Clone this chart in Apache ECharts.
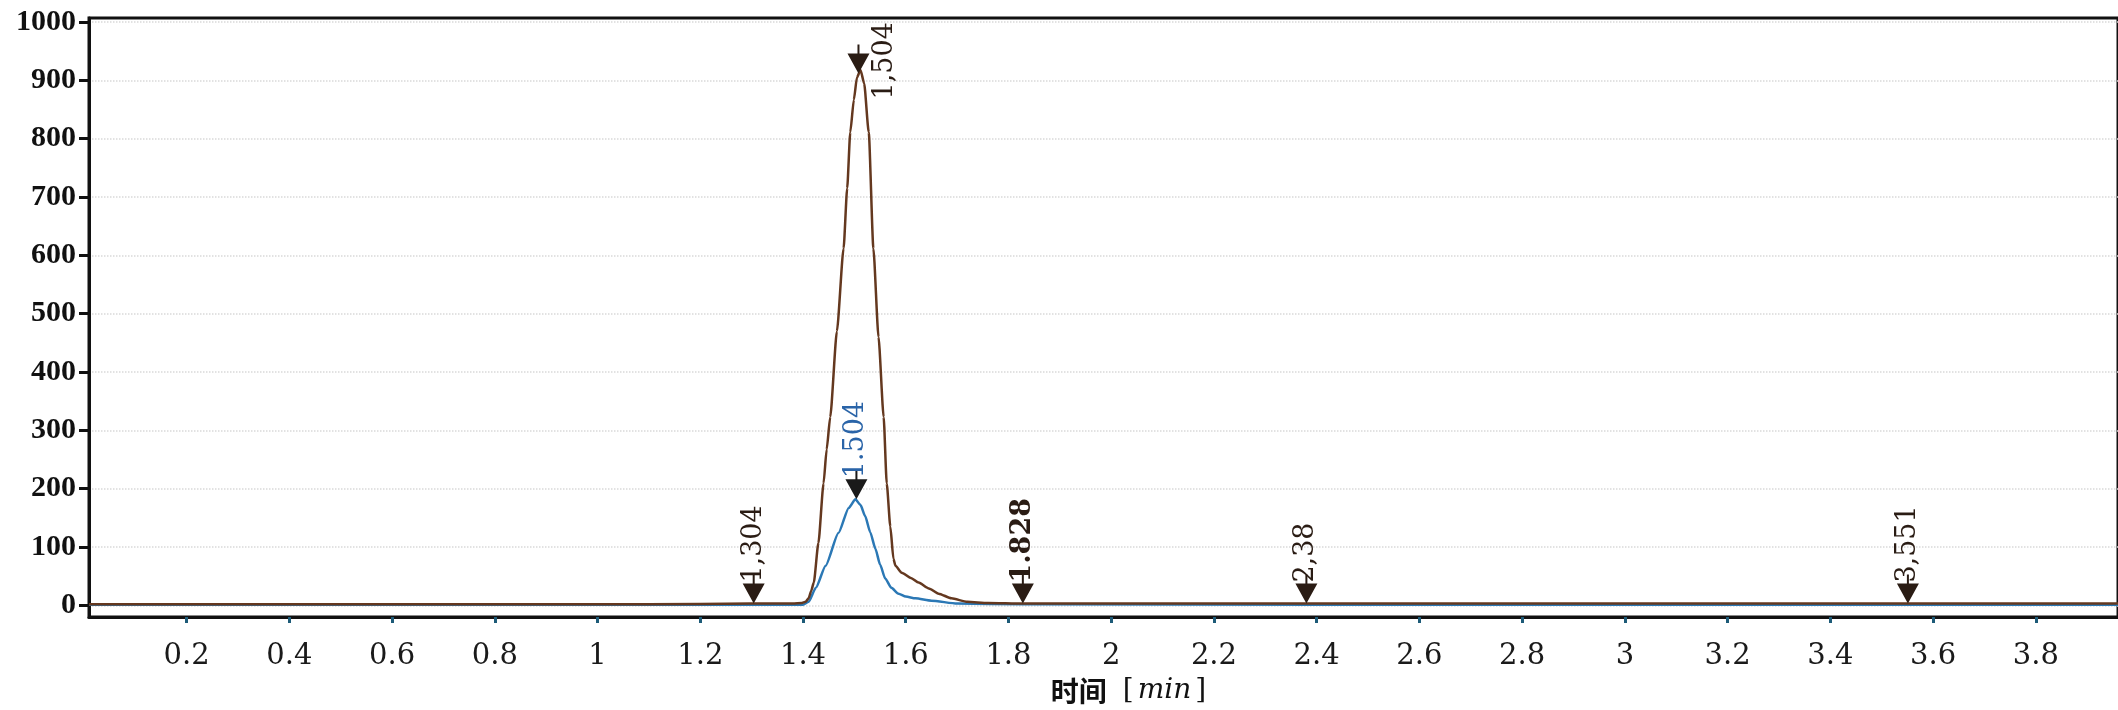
<!DOCTYPE html>
<html><head><meta charset="utf-8">
<script src="https://cdn.jsdelivr.net/npm/echarts@6/dist/echarts.min.js"></script>
<style>html,body{margin:0;padding:0;background:#fff}#c{width:2118px;height:710px}</style>
</head><body><div id="c"></div>
<script>
// ---- data ----
const brownTimes  = [0.01, 0.3, 0.6, 0.9, 1.1, 1.3, 1.38, 1.398, 1.405, 1.411, 1.416, 1.421, 1.43, 1.44, 1.446, 1.453, 1.466, 1.479, 1.486, 1.492, 1.499, 1.505, 1.512, 1.519, 1.528, 1.537, 1.547, 1.557, 1.563, 1.570, 1.576, 1.58, 1.592, 1.61, 1.625, 1.645, 1.664, 1.689, 1.72, 1.76, 1.828, 2.0, 2.38, 2.8, 3.2, 3.551, 3.96];
const brownValues = [2, 2, 2, 2, 2, 3, 3, 4, 6, 12, 25, 39, 107, 209, 267, 323, 470, 612, 715, 811, 867, 905, 918, 895, 811, 612, 460, 323, 209, 135, 80, 68, 56, 47, 39, 29, 20, 12, 6, 4, 3, 3, 3, 3, 3, 3, 3];
const blueTimes   = [0.01, 0.5, 1.0, 1.3, 1.4, 1.411, 1.425, 1.444, 1.469, 1.489, 1.502, 1.512, 1.521, 1.531, 1.541, 1.55, 1.56, 1.572, 1.586, 1.6, 1.619, 1.65, 1.7, 1.828, 2.4, 3.0, 3.96];
const blueValues  = [1, 1, 1, 1, 1, 6, 30, 68, 124, 167, 182, 172, 153, 125, 97, 70, 46, 30, 20, 15, 12, 8, 3, 2, 1, 1, 1];
const brownPeakTimes  = [1.304, 1.508, 1.828, 2.38, 3.551];
const brownPeakValues = [3, 912, 3, 3, 3];
const brownPeakLabels = ['1,304', '1,504', '1.828', '2,38', '3,551'];
const bluePeakTimes  = [1.504];
const bluePeakValues = [182];
const bluePeakLabels = ['1.504'];
const xTickValues = [0.2, 0.4, 0.6, 0.8, 1, 1.2, 1.4, 1.6, 1.8, 2, 2.2, 2.4, 2.6, 2.8, 3, 3.2, 3.4, 3.6, 3.8];
const xTickLabels = ['0.2','0.4','0.6','0.8','1','1.2','1.4','1.6','1.8','2','2.2','2.4','2.6','2.8','3','3.2','3.4','3.6','3.8'];
const yTickValues = [0, 100, 200, 300, 400, 500, 600, 700, 800, 900, 1000];
const yTickLabels = ['0','100','200','300','400','500','600','700','800','900','1000'];

// ---- build ----
const zip = (a, b) => a.map((t, i) => [t, b[i]]);
const arrowSymbol = 'path://M0,9 L22,9 L11,29 Z M10,0 L12,0 L12,9 L10,9 Z';
const markerLabel = (color) => ({
  show: true, position: 'top', distance: -8, rotate: 90,
  align: 'left', verticalAlign: 'middle',
  fontFamily: 'DejaVu Serif', fontSize: 27, color: color
});
const brownPeakData = brownPeakTimes.map((t, i) => {
  const item = { value: [t, brownPeakValues[i]], name: brownPeakLabels[i] };
  if (brownPeakValues[i] > 500) item.label = { offset: [-47, 27] };
  if (brownPeakLabels[i] === '1.828') item.label = { fontWeight: 'bold' };
  return item;
});
const bluePeakData = bluePeakTimes.map((t, i) => ({ value: [t, bluePeakValues[i]], name: bluePeakLabels[i] }));

const chart = echarts.init(document.getElementById('c'), null, { renderer: 'canvas' });
chart.setOption({
  animation: false,
  backgroundColor: '#ffffff',
  grid: { left: 89, right: -4, top: 18, bottom: 88, show: true, borderColor: '#111', borderWidth: 3, backgroundColor: 'transparent' },
  xAxis: {
    type: 'value', min: 0.01, max: 3.96,
    axisLine: { show: true, onZero: false, lineStyle: { color: '#111', width: 3 } },
    axisTick: { show: true, customValues: xTickValues, length: 6, lineStyle: { color: '#1d5b78', width: 3 } },
    axisLabel: {
      customValues: xTickValues, margin: 25,
      formatter: v => { const i = xTickValues.findIndex(x => Math.abs(x - v) < 1e-6); return i >= 0 ? xTickLabels[i] : ''; },
      fontFamily: 'DejaVu Serif', fontSize: 29, color: '#1a1a1a'
    },
    splitLine: { show: false },
    name: '{a|时间}{b|[}{c|min}{d|]}', nameLocation: 'middle', nameGap: 60,
    nameTextStyle: {
      padding: [0, 0, 0, 50],
      rich: {
        a: { fontFamily: 'Noto Sans CJK SC', fontWeight: 'bold', fontSize: 28, color: '#111' },
        b: { fontFamily: 'DejaVu Serif', fontSize: 28, color: '#111', padding: [0, 4, 0, 16] },
        c: { fontFamily: 'DejaVu Serif', fontStyle: 'italic', fontSize: 28, color: '#111' },
        d: { fontFamily: 'DejaVu Serif', fontSize: 28, color: '#111', padding: [0, 0, 0, 4] }
      }
    }
  },
  yAxis: {
    type: 'value', min: -20, max: 1007,
    axisLine: { show: true, lineStyle: { color: '#111', width: 3 } },
    axisTick: { show: true, customValues: yTickValues, length: 10, lineStyle: { color: '#111', width: 3 } },
    axisLabel: {
      customValues: yTickValues, margin: 13,
      formatter: v => { const i = yTickValues.indexOf(Math.round(v)); return i >= 0 ? yTickLabels[i] : ''; },
      fontFamily: 'Liberation Serif', fontWeight: 'bold', fontSize: 30, color: '#111'
    },
    splitLine: { show: true, lineStyle: { color: '#d9d9d9', type: 'dotted', width: 1.5 } }
  },
  series: [
    { type: 'line', data: zip(blueTimes, blueValues), showSymbol: false, smooth: 0.2, smoothMonotone: 'x', z: 2,
      lineStyle: { color: '#2b78b5', width: 2.5 } },
    { type: 'line', data: zip(brownTimes, brownValues), showSymbol: false, smooth: 0.2, smoothMonotone: 'x', z: 3,
      lineStyle: { color: '#64381f', width: 2.5 } },
    { type: 'scatter', data: brownPeakData, symbol: arrowSymbol, symbolSize: [22, 29], symbolOffset: [0, '-50%'], z: 6,
      itemStyle: { color: '#2a1c14', opacity: 1 },
      label: Object.assign(markerLabel('#2a1c14'), { formatter: p => p.name }) },
    { type: 'scatter', data: bluePeakData, symbol: arrowSymbol, symbolSize: [22, 29], symbolOffset: [0, '-50%'], z: 6,
      itemStyle: { color: '#1a1a1a', opacity: 1 },
      label: Object.assign(markerLabel('#2a64a8'), { formatter: p => p.name }) }
  ]
});
</script>
</body></html>
